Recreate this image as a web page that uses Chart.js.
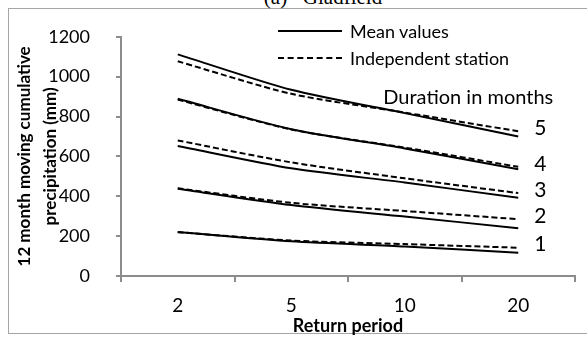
<!DOCTYPE html>
<html>
<head>
<meta charset="UTF-8">
<title>Gladfield</title>
<script src="https://cdn.jsdelivr.net/npm/chart.js"></script>
<style>
  body { margin: 0; width: 587px; height: 337px; overflow: hidden; position: relative; background: #fff; }
  #frame { position: absolute; left: 8px; top: 8px; width: 620px; height: 324px; border: 1.5px solid #a6a6a6; }
  #title { position: absolute; left: 0; width: 646px; top: -15px; text-align: center; font: 21px "Liberation Serif", serif; white-space: pre; }
  #chartBox { position: absolute; left: 0; top: 0; width: 587px; height: 337px; }
  .leg { position: absolute; left: 278px; font: 18px Lato, sans-serif; display: flex; align-items: center; }
  .leg span.s { display: inline-block; width: 64px; margin-right: 8px; border-top: 2px solid #000; }
  .leg span.d { border-top-style: dashed; }
</style>
</head>
<body>
<div id="frame"></div>
<div id="title">(a)   Gladfield</div>
<div id="chartBox"><canvas id="rpChart"></canvas></div>
<div id="legend"></div>

<script>
  // return period (years) and precipitation (mm) per duration
  const returnPeriods = ['2', '5', '10', '20'];
  const durations = ['1', '2', '3', '4', '5'];
  const yTicks = [0, 200, 400, 600, 800, 1000, 1200];

  const mean1 = [221, 174, 148, 117];
  const indep1 = [220, 178, 160, 142];
  const mean2 = [438, 356, 298, 240];
  const indep2 = [440, 367, 326, 285];
  const mean3 = [652, 540, 469, 392];
  const indep3 = [680, 570, 490, 416];
  const mean4 = [889, 736, 640, 535];
  const indep4 = [885, 735, 644, 548];
  const mean5 = [1112, 934, 817, 700];
  const indep5 = [1077, 914, 820, 726];

  const meanSets = [mean1, mean2, mean3, mean4, mean5];
  const indepSets = [indep1, indep2, indep3, indep4, indep5];

  const datasets = [];
  durations.forEach((d, i) => {
    datasets.push({
      label: 'Mean values', group: d, data: meanSets[i],
      borderColor: '#000', borderWidth: 2, pointRadius: 0, tension: 0.25, fill: false
    });
    datasets.push({
      label: 'Independent station', group: d, data: indepSets[i],
      borderColor: '#000', borderWidth: 2, borderDash: [6, 3], pointRadius: 0, tension: 0.25, fill: false
    });
  });

  // legend built as html (only two entries)
  const legendEl = document.getElementById('legend');
  [['Mean values', '', 32], ['Independent station', 'd', 59]].forEach(([txt, cls, y]) => {
    const row = document.createElement('div');
    row.className = 'leg';
    row.style.top = (y - 12) + 'px';
    row.innerHTML = '<span class="s ' + cls + '"></span>' + txt;
    legendEl.appendChild(row);
  });

  // duration labels next to the last point of each pair
  const durationLabels = {
    id: 'durationLabels',
    afterDatasetsDraw(chart) {
      const ctx = chart.ctx;
      ctx.save();
      ctx.fillStyle = '#000';
      ctx.textBaseline = 'middle';
      ctx.textAlign = 'center';
      ctx.font = '21px Lato, sans-serif';
      let topY = 0, lastX = 0;
      durations.forEach((d, i) => {
        const m = chart.getDatasetMeta(i * 2).data;
        const n = chart.getDatasetMeta(i * 2 + 1).data;
        const pm = m[m.length - 1], pn = n[n.length - 1];
        const y = Math.min(pm.y, pn.y) - 3;
        lastX = pm.x;
        ctx.fillText(d, pm.x + 22, y);
        topY = y;
      });
      ctx.font = '20px Lato, sans-serif';
      ctx.fillText('Duration in months', lastX - 50, topY - 31);
      ctx.restore();
    }
  };

  new Chart(document.getElementById('rpChart'), {
    type: 'line',
    data: { labels: returnPeriods, datasets: datasets },
    options: {
      responsive: true,
      maintainAspectRatio: false,
      animation: false,
      layout: { padding: { top: 33, right: 12, left: 0, bottom: 0 } },
      plugins: { legend: { display: false }, tooltip: { enabled: false } },
      scales: {
        x: {
          type: 'category',
          offset: true,
          grid: { offset: true, drawOnChartArea: false, drawTicks: true, tickLength: 6, color: '#8c8c8c', lineWidth: 2 },
          border: { color: '#8c8c8c', width: 2 },
          ticks: { color: '#000', font: { family: 'Lato', size: 19 }, padding: 12 },
          title: { display: true, text: 'Return period', color: '#000', font: { family: 'Lato', size: 18, weight: 'bold' }, padding: { top: -4, bottom: 0 } },
          afterFit(scale) { scale.height = 61; }
        },
        y: {
          min: yTicks[0], max: yTicks[yTicks.length - 1],
          afterBuildTicks(scale) { scale.ticks = yTicks.map(v => ({ value: v })); },
          ticks: { color: '#000', font: { family: 'Lato', size: 18 }, padding: 26, callback: v => String(v) },
          grid: { drawOnChartArea: false, drawTicks: true, tickLength: 5, color: '#8c8c8c', lineWidth: 2 },
          border: { color: '#8c8c8c', width: 2 },
          title: {
            display: true, text: ['12 month moving cumulative', 'precipitation (mm)'], color: '#000',
            font: { family: 'Lato', size: 17, weight: 'bold', lineHeight: 1.5 }, padding: { top: 12, bottom: 0 }
          },
          afterFit(scale) { scale.width = 121; }
        }
      }
    },
    plugins: [durationLabels]
  });
</script>
</body>
</html>
